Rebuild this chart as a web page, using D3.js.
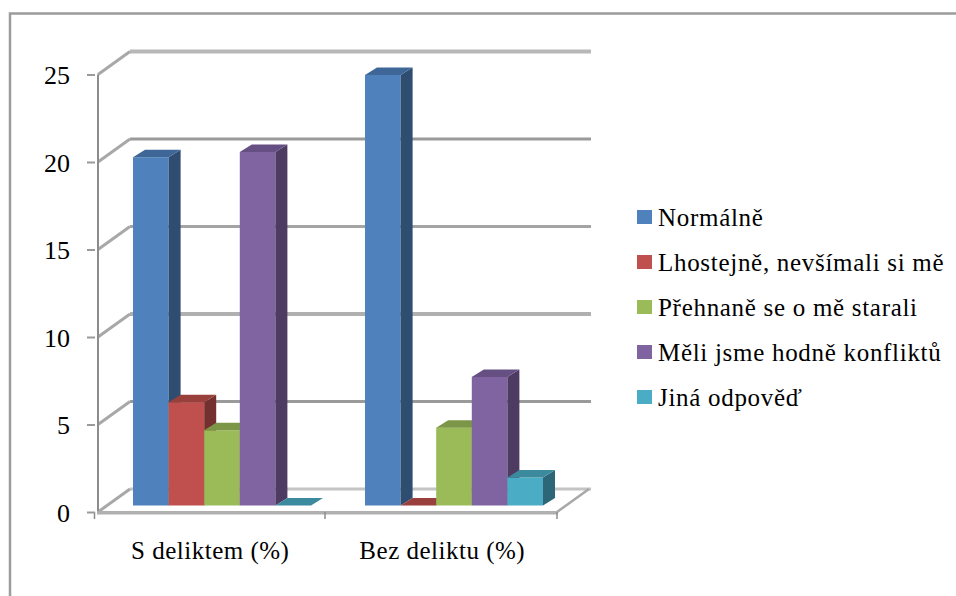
<!DOCTYPE html>
<html><head><meta charset="utf-8">
<script src="https://cdn.jsdelivr.net/npm/d3@7/dist/d3.min.js"></script>
<style>html,body{margin:0;padding:0;background:#fff}svg{display:block}text{font-family:"Liberation Serif",serif;fill:#000}</style>
</head><body><svg id="c" width="956" height="596"></svg>
<script>
const categories = ["S deliktem (%)", "Bez deliktu (%)"];
const seriesNames = ["Normálně", "Lhostejně, nevšímali si mě", "Přehnaně se o mě starali", "Měli jsme hodně konfliktů", "Jiná odpověď"];
const normalne = [19.9, 24.6];
const lhostejne = [5.9, 0];
const prehnane = [4.3, 4.45];
const konflikty = [20.2, 7.35];
const jina = [0, 1.6];
const yTicks = [0, 5, 10, 15, 20, 25];
const frontColors = ["#4f81bd", "#c0504d", "#9bbb59", "#8064a2", "#4bacc6"];
const topColors = ["#3e6797", "#99403d", "#7c9647", "#664f82", "#3c8a9e"];
const sideColors = ["#2f4d71", "#73302e", "#5d7035", "#4d3b61", "#2d6777"];
const gridColors = ["#c4c4c4", "#9a9a9a", "#b0b0b0", "#a4a4a4", "#9a9a9a", "#b8b8b8"];
const gridWidths = [3, 3, 4, 3, 3, 4];
const xTickPositions = [94.5, 325, 557];
const allSeries = [normalne, lhostejne, prehnane, konflikty, jina];

const svg = d3.select("#c");
// frame: only the top and left edges are visible in the picture
svg.append("path").attr("d","M10,596V13.5H956").attr("fill","none").attr("stroke","#9c9c9c").attr("stroke-width",2.5);

const y = d3.scaleLinear().domain([0,25]).range([512,74.5]);
const x0 = d3.scaleBand().domain(categories).range([98,557]);
const depthX = 32, depthY = -23;

const g = svg.append("g");
g.selectAll("line.grid").data(yTicks).join("line").attr("class","grid").attr("x1",98+depthX).attr("x2",557+depthX+2)
 .attr("y1",d=>y(d)+depthY).attr("y2",d=>y(d)+depthY).attr("stroke",(d,i)=>gridColors[i]).attr("stroke-width",(d,i)=>gridWidths[i]);
g.selectAll("line.wall").data(yTicks).join("line").attr("class","wall").attr("x1",98).attr("x2",98+depthX)
 .attr("y1",d=>y(d)).attr("y2",d=>y(d)+depthY).attr("stroke","#a8a8a8").attr("stroke-width",3);
g.append("line").attr("x1",557).attr("x2",557+depthX).attr("y1",y(0)).attr("y2",y(0)+depthY).attr("stroke","#a8a8a8").attr("stroke-width",2.5);
g.append("line").attr("x1",98).attr("x2",98).attr("y1",y(25)).attr("y2",y(0)).attr("stroke","#8c8c8c").attr("stroke-width",2);
g.append("line").attr("x1",97).attr("x2",558).attr("y1",y(0)+0.7).attr("y2",y(0)+0.7).attr("stroke","#b0b0b0").attr("stroke-width",3.5);
const ya = d3.axisLeft(y).tickValues(yTicks).tickSize(8).tickPadding(17);
const axY = svg.append("g").attr("transform","translate(95,0)").call(ya);
axY.select(".domain").remove();
axY.selectAll("line").attr("stroke","#9a9a9a").attr("stroke-width",2);
axY.selectAll("text").attr("font-size",26).attr("font-family","Liberation Serif").attr("dy",null).attr("y",9).attr("fill","#000");
g.selectAll("line.xt").data(xTickPositions).join("line").attr("class","xt").attr("x1",d=>d).attr("x2",d=>d).attr("y1",y(0)).attr("y2",y(0)+7).attr("stroke","#8c8c8c").attr("stroke-width",1.5);

// bars
const inner = d3.scaleBand().domain(d3.range(5)).range([0,178]);
const barDepthX = 12, barDepthY = -7.5;
const base = y(0) - 6.5;
const barScale = d3.scaleLinear().domain([0,25]).range([base, base-(y(0)-y(25))]);
const groupStart = [133, 365];
const bars = [];
categories.forEach((c,ci)=>allSeries.forEach((s,si)=>bars.push({ci,si,v:s[ci]})));
const bg = svg.append("g");
bars.forEach(b=>{
  const bx = groupStart[b.ci]+inner(b.si), w = inner.bandwidth(), yt = barScale(b.v);
  const gb = bg.append("g");
  if(b.v>0) gb.append("rect").attr("x",bx).attr("y",yt).attr("width",w).attr("height",base-yt).attr("fill",frontColors[b.si]);
  gb.append("path").attr("d",`M${bx+w},${yt}L${bx+w+barDepthX},${yt+barDepthY}L${bx+w+barDepthX},${base+barDepthY}L${bx+w},${base}Z`).attr("fill",sideColors[b.si]);
  gb.append("path").attr("d",`M${bx},${yt}L${bx+barDepthX},${yt+barDepthY}L${bx+w+barDepthX},${yt+barDepthY}L${bx+w},${yt}Z`).attr("fill",topColors[b.si]);
});

// category labels
svg.selectAll("text.cat").data(categories).join("text").attr("class","cat")
 .attr("x",(c,i)=>x0(c)+x0.bandwidth()/2-(i===0?2.5:0)).attr("y",559).attr("text-anchor","middle").attr("font-size",25).attr("letter-spacing",0.5).text(c=>c);

// legend
const lg = svg.append("g");
const rowY = d3.scalePoint().domain(seriesNames).range([217.5,397.5]);
lg.selectAll("rect").data(seriesNames).join("rect").attr("x",637).attr("y",d=>rowY(d)-7.5).attr("width",15).attr("height",14).attr("fill",(d,i)=>frontColors[i]);
lg.selectAll("text").data(seriesNames).join("text").attr("x",658).attr("y",d=>rowY(d)+8).attr("font-size",25).attr("letter-spacing",0.7).text(d=>d);
</script></body></html>
